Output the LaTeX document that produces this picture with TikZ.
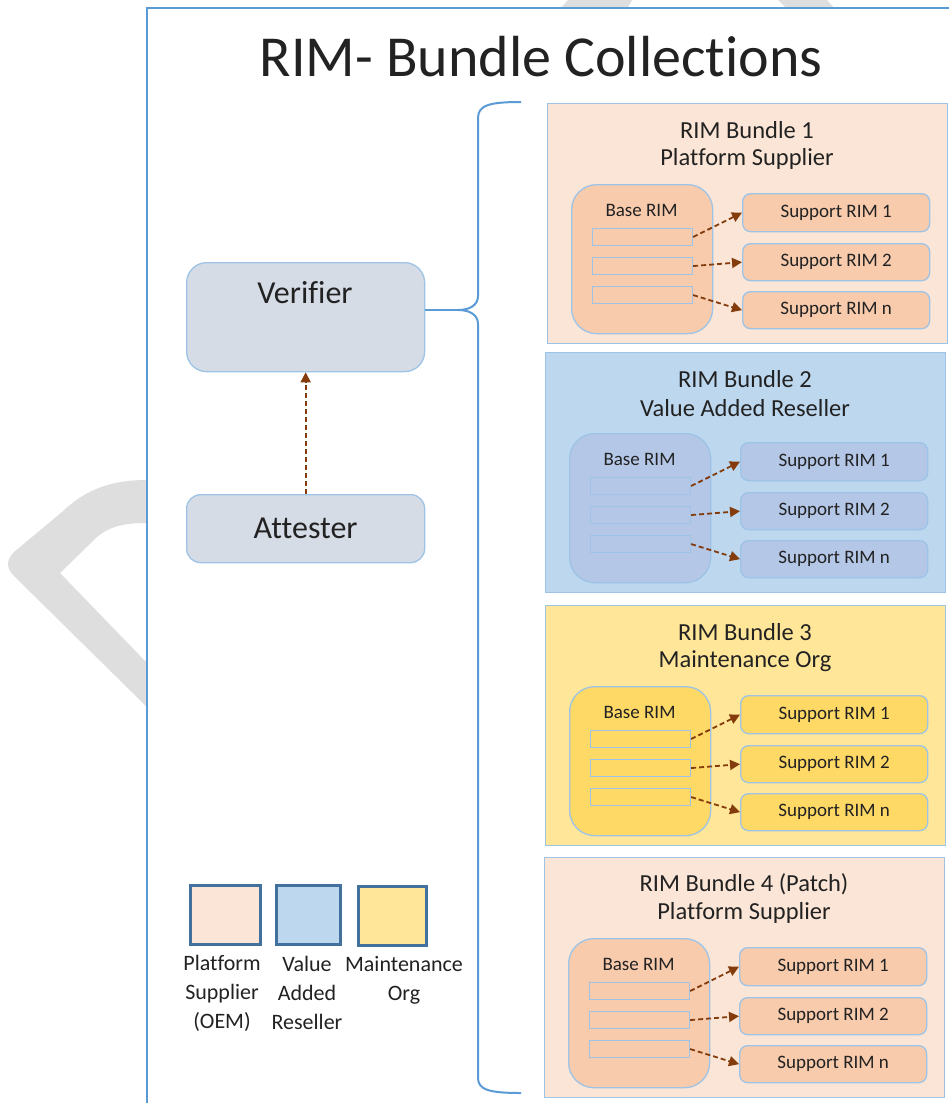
\documentclass[tikz,border=0pt]{standalone}
\usepackage{fontspec}
\setmainfont{Carlito}[Ligatures=NoCommon]
\usetikzlibrary{arrows.meta,calc}
\definecolor{frameblue}{HTML}{5B9BD5}
\definecolor{bdr}{HTML}{9DC3E6}
\definecolor{peachA}{HTML}{FBE5D6}
\definecolor{peachB}{HTML}{F8CBAD}
\definecolor{blueA}{HTML}{BDD7EE}
\definecolor{blueB}{HTML}{B4C7E7}
\definecolor{yelA}{HTML}{FFE699}
\definecolor{yelB}{HTML}{FFD966}
\definecolor{vfill}{HTML}{D6DCE5}
\definecolor{brn}{HTML}{843C0C}
\definecolor{legbdr}{HTML}{41719C}
\definecolor{txt}{HTML}{222222}
\definecolor{wm}{HTML}{DEDEDE}
\tikzset{
  bundlebox/.style={draw=bdr, line width=1.3pt, anchor=north west, minimum width=400pt, minimum height=240pt, inner sep=0pt},
  basebox/.style={draw=bdr, line width=1.3pt, anchor=north west, rounded corners=25pt, minimum width=141pt, minimum height=149pt, inner sep=0pt},
  barbox/.style={draw=bdr, line width=1.1pt, anchor=north west, minimum width=100pt, minimum height=17pt, inner sep=0pt},
  supbox/.style={draw=bdr, line width=1.3pt, anchor=north west, rounded corners=8pt, minimum width=187pt, minimum height=37pt, inner sep=0pt, text=txt, font=\fontsize{19}{22}\selectfont},
  titletext/.style={text=txt, font=\fontsize{24.5}{29}\selectfont, inner sep=0pt},
  smalltext/.style={text=txt, font=\fontsize{19}{22}\selectfont, inner sep=0pt},
  rimarrow/.style={draw=brn, line width=1.8pt, dash pattern=on 5pt off 3pt, -{Triangle[length=10pt,width=10pt]}},
  agentbox/.style={draw=bdr, fill=vfill, line width=1.3pt, anchor=north west, rounded corners=20pt, inner sep=0pt, minimum width=238pt},
  bigtext/.style={text=txt, font=\fontsize{32}{38}\selectfont, inner sep=0pt},
  legsq/.style={draw=legbdr, line width=2.5pt, anchor=north west, inner sep=0pt, minimum height=59pt},
  legtext/.style={text=txt, font=\fontsize{22}{29}\selectfont, inner sep=0pt, align=center, anchor=north},
}
\newcommand\rimbundle[7]{%
  \node[bundlebox, fill=#4] (#1) at (#2,#3) {};
  \node[titletext] (#1ta) at (#2+200,#3+27) {#6};
  \node[titletext] (#1tb) at (#2+200,#3+56) {#7};
  \node[basebox, fill=#5] (#1base) at (#2+24,#3+81) {};
  \node[smalltext] (#1basel) at (#2+94.5,#3+107) {Base RIM};
  \node[barbox, fill=#5] (#1b1) at (#2+45,#3+125) {};
  \node[barbox, fill=#5] (#1b2) at (#2+45,#3+154) {};
  \node[barbox, fill=#5] (#1b3) at (#2+45,#3+183) {};
  \node[supbox, fill=#5, minimum height=38pt] (#1s1) at (#2+195,#3+90) {Support RIM 1};
  \node[supbox, fill=#5] (#1s2) at (#2+195,#3+140) {Support RIM 2};
  \node[supbox, fill=#5] (#1s3) at (#2+195,#3+188) {Support RIM n};
  \draw[rimarrow] (#1b1.east) -- (#1s1.west);
  \draw[rimarrow] (#1b2.east) -- (#1s2.west);
  \draw[rimarrow] (#1b3.east) -- (#1s3.west);
}
\begin{document}
\begin{tikzpicture}[x=1pt,y=-1pt]
\useasboundingbox (0,0) rectangle (949,1103);
\clip (0,0) rectangle (949,1103);
\fill[white] (0,0) rectangle (949,1103);
% watermark fragments
\fill[wm] (147,480) .. controls (110,480) and (85,490) .. (62,512) -- (14,552)
  .. controls (6,560) and (6,568) .. (14,576) -- (147,707) -- (147,663) -- (60,573) -- (97,537)
  .. controls (110,526) and (125,523) .. (147,523) -- cycle;
\fill[wm] (560,9) -- (568,0) -- (632,0) -- (627,9) -- cycle;
\fill[wm] (778,0) -- (827,0) -- (835,9) -- (787,9) -- cycle;
% frame
\draw[frameblue, fill=white, line width=2.5pt] (147,1120) -- (147,8) -- (960,8);
\node[text=txt, font=\fontsize{58}{64}\selectfont, inner sep=0pt] (title) at (541,57) {RIM- Bundle Collections};
% agents
\node[agentbox, minimum height=109pt] (verifier) at (186,262) {};
\node[bigtext] (verifierl) at (305,293) {Verifier};
\node[agentbox, minimum height=68pt, rounded corners=14pt] (attester) at (186,494) {};
\node[bigtext] (attesterl) at (attester.center) {Attester};
\draw[rimarrow] (attester.north) -- (verifier.south);
% bundles
\rimbundle{bA}{547}{103}{peachA}{peachB}{RIM Bundle 1}{Platform Supplier}
\rimbundle{bB}{545}{352}{blueA}{blueB}{RIM Bundle 2}{Value Added Reseller}
\rimbundle{bC}{545}{605}{yelA}{yelB}{RIM Bundle 3}{Maintenance Org}
\rimbundle{bD}{544}{857}{peachA}{peachB}{RIM Bundle 4 (Patch)}{Platform Supplier}
% brace
\coordinate (tip) at (458,310);
\draw[frameblue, line width=2pt] (tip -| verifier.east) -- (tip);
\draw[frameblue, line width=2pt] (521,102) .. controls (490,102) and (478,105) .. (478,118) -- (478,296)
  .. controls (478,305) and (470,310) .. (tip)
  .. controls (470,310) and (478,315) .. (478,324) -- (478,1078)
  .. controls (478,1090) and (490,1093) .. (521,1093);
% legend
\node[legsq, fill=peachA, minimum width=70pt] (lgA) at (189,884) {};
\node[legsq, fill=blueA, minimum width=64pt] (lgB) at (275,884) {};
\node[legsq, fill=yelA, minimum width=68pt] (lgC) at (357,885) {};
\node[legtext] (lgAl) at (222,955) {Platform\\Supplier\\(OEM)};
\node[legtext] (lgBl) at (307,956) {Value\\Added\\Reseller};
\node[legtext] (lgCl) at (404,956) {Maintenance\\Org};
\end{tikzpicture}
\end{document}
